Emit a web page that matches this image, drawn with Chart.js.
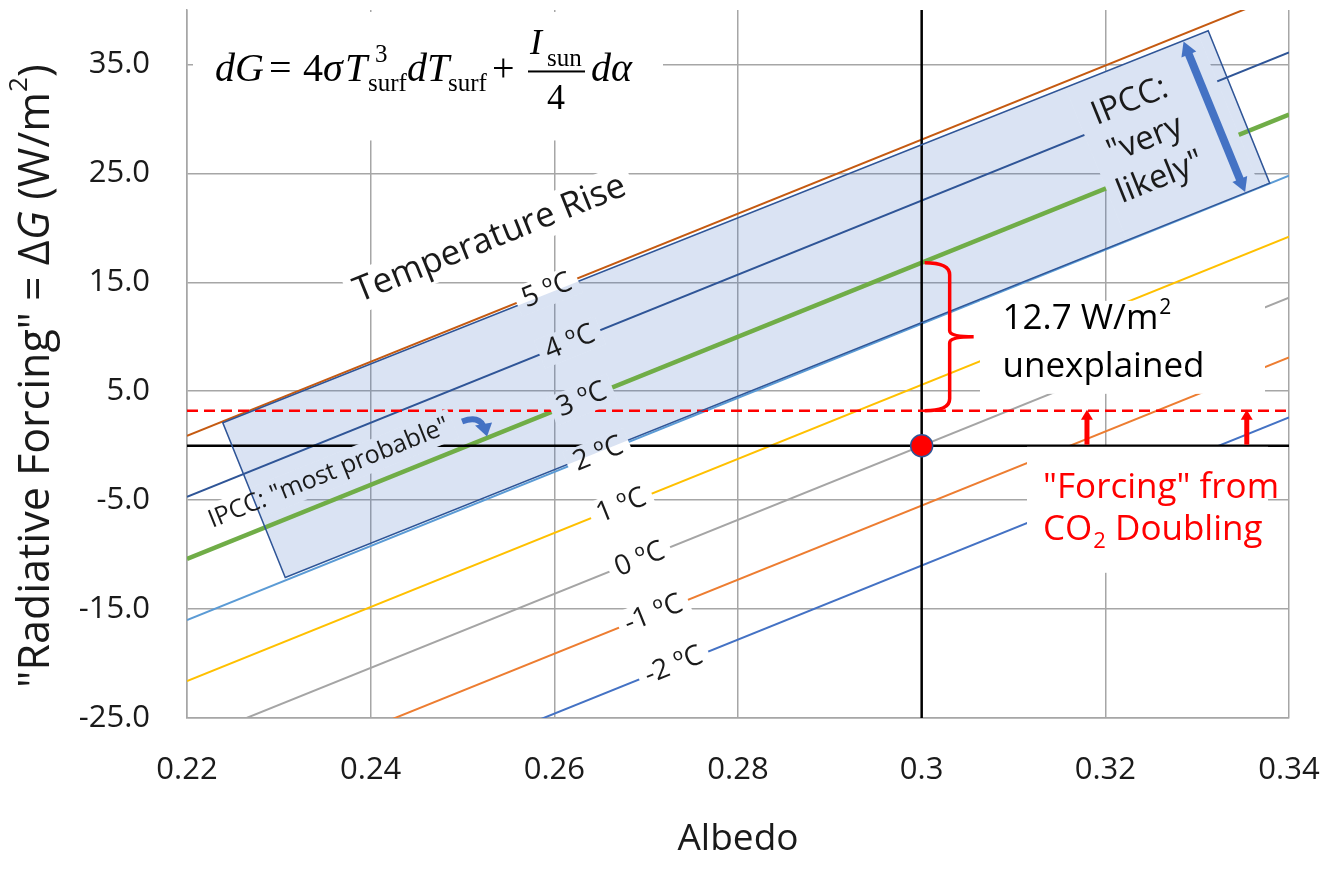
<!DOCTYPE html>
<html>
<head>
<meta charset="utf-8">
<script src="https://cdn.jsdelivr.net/npm/chart.js@4.4.1/dist/chart.umd.min.js"></script>
<style>
  html, body { margin: 0; padding: 0; background: #fff; }
  #wrap { width: 1338px; height: 875px; }
</style>
</head>
<body>
<div id="wrap"><canvas id="myChart" width="1338" height="875"></canvas></div>
<script>
// axis ticks
const albedoTicks = [0.22, 0.24, 0.26, 0.28, 0.30, 0.32, 0.34];
const forcingTicks = [-25, -15, -5, 5, 15, 25, 35];

// temperature-rise lines, read at both ends of the albedo axis
const albedoEnds = [0.22, 0.34];
const tempRise = [5, 4, 3, 2, 1, 0, -1, -2];
const forcingAtLow = [0.9, -4.7, -10.4, -16.0, -21.6, -27.2, -32.7, -38.2];
const forcingAtHigh = [41.7, 36.1, 30.4, 24.8, 19.2, 13.6, 8.1, 2.6];
// where each temperature label sits along its line
const labelAlbedo = [0.2592, 0.2617, 0.2630, 0.2648, 0.2673, 0.2693, 0.2708, 0.2730];

// reference marks
const presentAlbedo = 0.30;
const presentForcing = 0;
const co2Forcing = 3.2;
const mostProbableForcing = 16.8;
const arrowAlbedo = [0.318, 0.3354];

// IPCC "very likely" band corners
const ipccBoxAlbedo = [0.2239, 0.3312, 0.3379, 0.2307];
const ipccBoxForcing = [2.1, 38.1, 24.1, -12.1];

const lineColors = ['#c55a11', '#2f5597', '#70ad47', '#5b9bd5', '#ffc000', '#a5a5a5', '#ed7d31', '#4472c4'];
const BOX_FILL = 'rgba(68,114,196,0.2)';
const SANS = '"Open Sans", "Liberation Sans", sans-serif';
const SERIF = '"Liberation Serif", "DejaVu Serif", serif';

const tempSets = tempRise.map((t, i) => ({
  label: t + ' ºC',
  data: [{x: albedoEnds[0], y: forcingAtLow[i]}, {x: albedoEnds[1], y: forcingAtHigh[i]}],
  borderColor: lineColors[i],
  borderWidth: t === 3 ? 4.5 : 2,
  showLine: true,
  pointRadius: 0,
  order: 5
}));

const refSets = [
  {
    label: 'zero',
    data: [{x: albedoEnds[0], y: 0}, {x: albedoEnds[1], y: 0}],
    borderColor: '#000', borderWidth: 2.5, showLine: true, pointRadius: 0, order: 3
  },
  {
    label: 'present albedo',
    data: [{x: presentAlbedo, y: -25}, {x: presentAlbedo, y: 40}],
    borderColor: '#000', borderWidth: 2.5, showLine: true, pointRadius: 0, order: 3
  },
  {
    label: 'CO2 doubling',
    data: [{x: albedoEnds[0], y: co2Forcing}, {x: albedoEnds[1], y: co2Forcing}],
    borderColor: '#ff0000', borderWidth: 2.5, borderDash: [11, 6], showLine: true, pointRadius: 0, order: 2
  },
  {
    label: 'present',
    data: [{x: presentAlbedo, y: presentForcing}],
    backgroundColor: '#ff0000', borderColor: '#2f5597', borderWidth: 1.5,
    pointRadius: 11, showLine: false, order: 0
  }
];

function boxPath(ctx, xs, ys) {
  ctx.beginPath();
  ipccBoxAlbedo.forEach((a, i) => {
    const px = xs.getPixelForValue(a), py = ys.getPixelForValue(ipccBoxForcing[i]);
    if (i === 0) ctx.moveTo(px, py); else ctx.lineTo(px, py);
  });
  ctx.closePath();
}

// paint over a rotated rectangle with the background it sits on (white, or band colour)
function eraseRot(ctx, xs, ys, cx, cy, ang, w, h) {
  ctx.save();
  ctx.translate(cx, cy);
  ctx.rotate(ang);
  ctx.beginPath();
  ctx.rect(-w / 2, -h / 2, w, h);
  ctx.restore();
  ctx.save();
  ctx.fillStyle = '#fff';
  ctx.fill();
  ctx.clip();
  boxPath(ctx, xs, ys);
  ctx.fillStyle = BOX_FILL;
  ctx.fill();
  ctx.restore();
}

function rotText(ctx, text, cx, cy, ang, font, color) {
  ctx.save();
  ctx.translate(cx, cy);
  ctx.rotate(ang);
  ctx.font = font;
  ctx.fillStyle = color;
  ctx.textAlign = 'center';
  ctx.textBaseline = 'middle';
  ctx.fillText(text, 0, 0);
  ctx.restore();
}

function arrow(ctx, x1, y1, x2, y2, w, hl, hw, color, both) {
  const ang = Math.atan2(y2 - y1, x2 - x1);
  const head = (x, y, a) => {
    ctx.beginPath();
    ctx.moveTo(x, y);
    ctx.lineTo(x - hl * Math.cos(a) + hw * Math.sin(a), y - hl * Math.sin(a) - hw * Math.cos(a));
    ctx.lineTo(x - hl * Math.cos(a) - hw * Math.sin(a), y - hl * Math.sin(a) + hw * Math.cos(a));
    ctx.closePath();
    ctx.fill();
  };
  ctx.save();
  ctx.strokeStyle = color; ctx.fillStyle = color; ctx.lineWidth = w;
  const sx = both ? x1 + (hl - 1) * Math.cos(ang) : x1, sy = both ? y1 + (hl - 1) * Math.sin(ang) : y1;
  ctx.beginPath();
  ctx.moveTo(sx, sy);
  ctx.lineTo(x2 - (hl - 1) * Math.cos(ang), y2 - (hl - 1) * Math.sin(ang));
  ctx.stroke();
  head(x2, y2, ang);
  if (both) head(x1, y1, ang + Math.PI);
  ctx.restore();
}

const annotations = {
  id: 'annotations',
  beforeDatasetsDraw(chart) {
    const {ctx, chartArea: ca, scales: {x, y}} = chart;
    ctx.save();
    ctx.beginPath(); ctx.rect(ca.left, ca.top, ca.width, ca.height); ctx.clip();
    boxPath(ctx, x, y);
    ctx.fillStyle = BOX_FILL;
    ctx.fill();
    ctx.restore();
  },
  afterDatasetsDraw(chart) {
    const {ctx, chartArea: ca, scales: {x, y}} = chart;
    const X = v => x.getPixelForValue(v), Y = v => y.getPixelForValue(v);
    const ang = Math.atan2(Y(forcingAtHigh[0]) - Y(forcingAtLow[0]), X(albedoEnds[1]) - X(albedoEnds[0]));
    const ink = '#1a1a1a';
    ctx.save();
    ctx.beginPath(); ctx.rect(ca.left, ca.top, ca.width, ca.height); ctx.clip();

    // formula
    const fx = X(0.22), fy = Y(35);
    ctx.fillStyle = '#fff';
    ctx.fillRect(fx + 6, ca.top + 2, 470, fy + 74 - ca.top);
    ctx.fillStyle = '#000';
    ctx.textAlign = 'left'; ctx.textBaseline = 'alphabetic';
    const big = '40px ' + SERIF, bigI = 'italic 40px ' + SERIF, sm = '25px ' + SERIF, mid = '36px ' + SERIF, midI = 'italic 36px ' + SERIF;
    const put = (t, f, px, py) => { ctx.font = f; ctx.fillText(t, fx + px, fy + py); };
    put('dG', bigI, 28, 17);
    put('=', big, 82, 17);
    put('4', big, 116, 17);
    put('σ', bigI, 136, 17);
    put('T', bigI, 158, 17);
    put('3', sm, 188, -2);
    put('surf', sm, 181, 27);
    put('dT', bigI, 220, 17);
    put('surf', sm, 261, 27);
    put('+', big, 305, 17);
    put('I', midI, 343, -10);
    put('sun', sm, 360, 2);
    ctx.fillRect(fx + 341, fy + 6, 57, 2);
    put('4', mid, 360, 45);
    put('dα', bigI, 404, 17);

    // "Temperature Rise"
    const trx = X(0.2530), tr_y = Y(18.97);
    const trFont = '35px ' + SANS;
    ctx.font = trFont;
    const trw = ctx.measureText('Temperature Rise').width;
    eraseRot(ctx, x, y, trx, tr_y, ang, trw + 16, 42);
    rotText(ctx, 'Temperature Rise', trx, tr_y, ang, trFont, ink);

    // IPCC "most probable" background
    const mpx = X(0.23546), mpy = Y(-2.53);
    const mpText = 'IPCC: "most probable"';
    const mpFont = '25px ' + SANS;
    ctx.font = mpFont;
    const mpw = ctx.measureText(mpText).width;
    eraseRot(ctx, x, y, mpx, mpy, ang, mpw + 10, 32);

    // band corners in pixels
    const c = ipccBoxAlbedo.map((a, i) => [X(a), Y(ipccBoxForcing[i])]);
    const along = (p, q, f) => [p[0] + (q[0] - p[0]) * f, p[1] + (q[1] - p[1]) * f];
    // clear lines under the "very likely" note
    const f1 = 0.855, f2 = 0.99;
    const q = [along(c[0], c[1], f1), along(c[0], c[1], f2), along(c[3], c[2], f2), along(c[3], c[2], f1)];
    ctx.beginPath();
    q.forEach((p, i) => i ? ctx.lineTo(p[0], p[1]) : ctx.moveTo(p[0], p[1]));
    ctx.closePath();
    ctx.fillStyle = '#fff'; ctx.fill();
    ctx.fillStyle = BOX_FILL; ctx.fill();

    // band outline
    boxPath(ctx, x, y);
    ctx.strokeStyle = '#2f5597'; ctx.lineWidth = 1.5; ctx.stroke();

    // temperature labels
    const lblFont = '28px ' + SANS;
    tempRise.forEach((t, i) => {
      const a = labelAlbedo[i];
      const f = forcingAtLow[i] + (forcingAtHigh[i] - forcingAtLow[i]) * (a - albedoEnds[0]) / (albedoEnds[1] - albedoEnds[0]);
      const txt = t + ' ºC';
      ctx.font = lblFont;
      const w = ctx.measureText(txt).width;
      eraseRot(ctx, x, y, X(a), Y(f), ang, w + 14, 30);
      rotText(ctx, txt, X(a), Y(f), ang, lblFont, ink);
    });

    // "most probable" text and little arrow
    rotText(ctx, mpText, mpx, mpy, ang, mpFont, ink);
    const ax = X(0.24995), ay = Y(2.04);
    ctx.strokeStyle = '#4472c4'; ctx.fillStyle = '#4472c4'; ctx.lineWidth = 6; ctx.lineCap = 'butt';
    ctx.beginPath();
    ctx.moveTo(ax, ay - 2);
    ctx.quadraticCurveTo(ax + 16, ay - 8, ax + 21, ay + 2);
    ctx.stroke();
    ctx.beginPath();
    ctx.moveTo(ax + 13, ay + 2); ctx.lineTo(ax + 30, ay - 1); ctx.lineTo(ax + 25, ay + 13);
    ctx.closePath(); ctx.fill();

    // IPCC "very likely"
    const vx = X(0.32432), vy = Y(28.1);
    const nx = Math.sin(-ang), ny = Math.cos(-ang);
    ['IPCC:', '"very', 'likely"'].forEach((t, k) => {
      const o = (k - 1) * 41;
      rotText(ctx, t, vx + nx * o, vy + ny * o, ang, '33px ' + SANS, ink);
    });
    const a1 = along(c[0], c[1], 0.975), a2 = along(c[3], c[2], 0.975);
    arrow(ctx, a1[0], a1[1] + 1, a2[0], a2[1] - 1, 8, 14, 8, '#4472c4', true);

    // unexplained gap
    ctx.fillStyle = '#fff';
    ctx.fillRect(X(0.30635), Y(13.3), X(0.33739) - X(0.30635), Y(4.76) - Y(13.3));
    ctx.fillStyle = '#000';
    ctx.textAlign = 'left'; ctx.textBaseline = 'alphabetic';
    ctx.font = '35px ' + SANS;
    ctx.fillText('12.7 W/m', X(0.3088), Y(10.7));
    const w127 = ctx.measureText('12.7 W/m').width;
    ctx.font = '21px ' + SANS;
    ctx.fillText('2', X(0.3088) + w127 + 1, Y(10.7) - 15);
    ctx.font = '35px ' + SANS;
    ctx.fillText('unexplained', X(0.3088), Y(6.33));

    // brace
    const bx = X(presentAlbedo), bt = Y(mostProbableForcing), bb = Y(co2Forcing), bm = (bt + bb) / 2;
    ctx.strokeStyle = '#ff0000'; ctx.lineWidth = 3.5; ctx.lineJoin = 'round';
    ctx.beginPath();
    ctx.moveTo(bx + 3, bt);
    ctx.quadraticCurveTo(bx + 28, bt, bx + 28, bt + 12);
    ctx.lineTo(bx + 28, bm - 6);
    ctx.quadraticCurveTo(bx + 28, bm, bx + 52, bm);
    ctx.moveTo(bx + 52, bm);
    ctx.quadraticCurveTo(bx + 28, bm, bx + 28, bm + 6);
    ctx.lineTo(bx + 28, bb - 12);
    ctx.quadraticCurveTo(bx + 28, bb, bx + 3, bb);
    ctx.stroke();

    // "Forcing" from CO2 doubling
    ctx.fillStyle = '#fff';
    ctx.fillRect(X(0.31147), Y(-0.1), X(0.33772) - X(0.31147), Y(-11.67) - Y(-0.1));
    ctx.fillStyle = '#ff0000';
    ctx.font = '35px ' + SANS;
    const tx = X(0.31322);
    ctx.fillText('"Forcing" from', tx, Y(-4.82));
    ctx.fillText('CO', tx, Y(-8.66));
    const wco = ctx.measureText('CO').width;
    ctx.font = '22px ' + SANS;
    ctx.fillText('2', tx + wco + 1, Y(-8.66) + 8);
    const w2 = ctx.measureText('2').width;
    ctx.font = '35px ' + SANS;
    ctx.fillText(' Doubling', tx + wco + w2 + 1, Y(-8.66));

    arrowAlbedo.forEach(a => arrow(ctx, X(a), Y(0) - 1, X(a), Y(co2Forcing) - 1, 5, 10, 6, '#ff0000', false));

    ctx.restore();
  },
  afterDraw(chart) {
    const {ctx} = chart;
    // y-axis title with italic G and superscript
    const parts = [
      ['"Radiative Forcing" = Δ', '43px ' + SANS, 0],
      ['G', 'italic 43px ' + SANS, 0],
      [' (W/m', '43px ' + SANS, 0],
      ['2', '26px ' + SANS, -17],
      [')', '43px ' + SANS, 0]
    ];
    ctx.save();
    let total = 0;
    parts.forEach(p => { ctx.font = p[1]; total += ctx.measureText(p[0]).width; });
    ctx.translate(37, 376);
    ctx.rotate(-Math.PI / 2);
    ctx.fillStyle = '#1a1a1a';
    ctx.textBaseline = 'middle';
    ctx.textAlign = 'left';
    let px = -total / 2;
    parts.forEach(p => {
      ctx.font = p[1];
      ctx.fillText(p[0], px, p[2]);
      px += ctx.measureText(p[0]).width;
    });
    ctx.restore();
  }
};

const config = {
  type: 'scatter',
  data: { datasets: [...tempSets, ...refSets] },
  options: {
    responsive: false,
    animation: false,
    devicePixelRatio: 1,
    layout: { autoPadding: false, padding: { top: 10, right: 49, left: 0, bottom: 0 } },
    plugins: { legend: { display: false }, tooltip: { enabled: false } },
    scales: {
      x: {
        type: 'linear',
        min: 0.22,
        max: 0.34,
        afterBuildTicks: s => { s.ticks = albedoTicks.map(v => ({value: v})); },
        afterFit: s => { s.height = 157; s.paddingLeft = 0; s.paddingRight = 0; },
        ticks: {
          callback: v => String(+v.toFixed(2)),
          font: { family: SANS, size: 31 },
          color: '#1a1a1a',
          padding: 34,
          maxRotation: 0
        },
        grid: { color: '#a6a6a6', lineWidth: 1.5, drawTicks: false },
        border: { display: true, color: '#a6a6a6', width: 1.5 },
        title: {
          display: true,
          text: 'Albedo',
          font: { family: SANS, size: 37 },
          color: '#1a1a1a',
          padding: { top: 0, bottom: 13 }
        }
      },
      y: {
        type: 'linear',
        min: -25,
        max: 40,
        afterBuildTicks: s => { s.ticks = forcingTicks.map(v => ({value: v})); },
        afterFit: s => { s.width = 187; s.paddingTop = 0; s.paddingBottom = 0; },
        ticks: {
          callback: v => v.toFixed(1),
          font: { family: SANS, size: 31 },
          color: '#1a1a1a',
          padding: 37
        },
        grid: { color: '#a6a6a6', lineWidth: 1.5, drawTicks: false },
        border: { display: true, color: '#a6a6a6', width: 1.5 }
      }
    }
  },
  plugins: [annotations]
};

window.onload = function() {
  const ctx = document.getElementById('myChart').getContext('2d');
  new Chart(ctx, config);
};
</script>
</body>
</html>
